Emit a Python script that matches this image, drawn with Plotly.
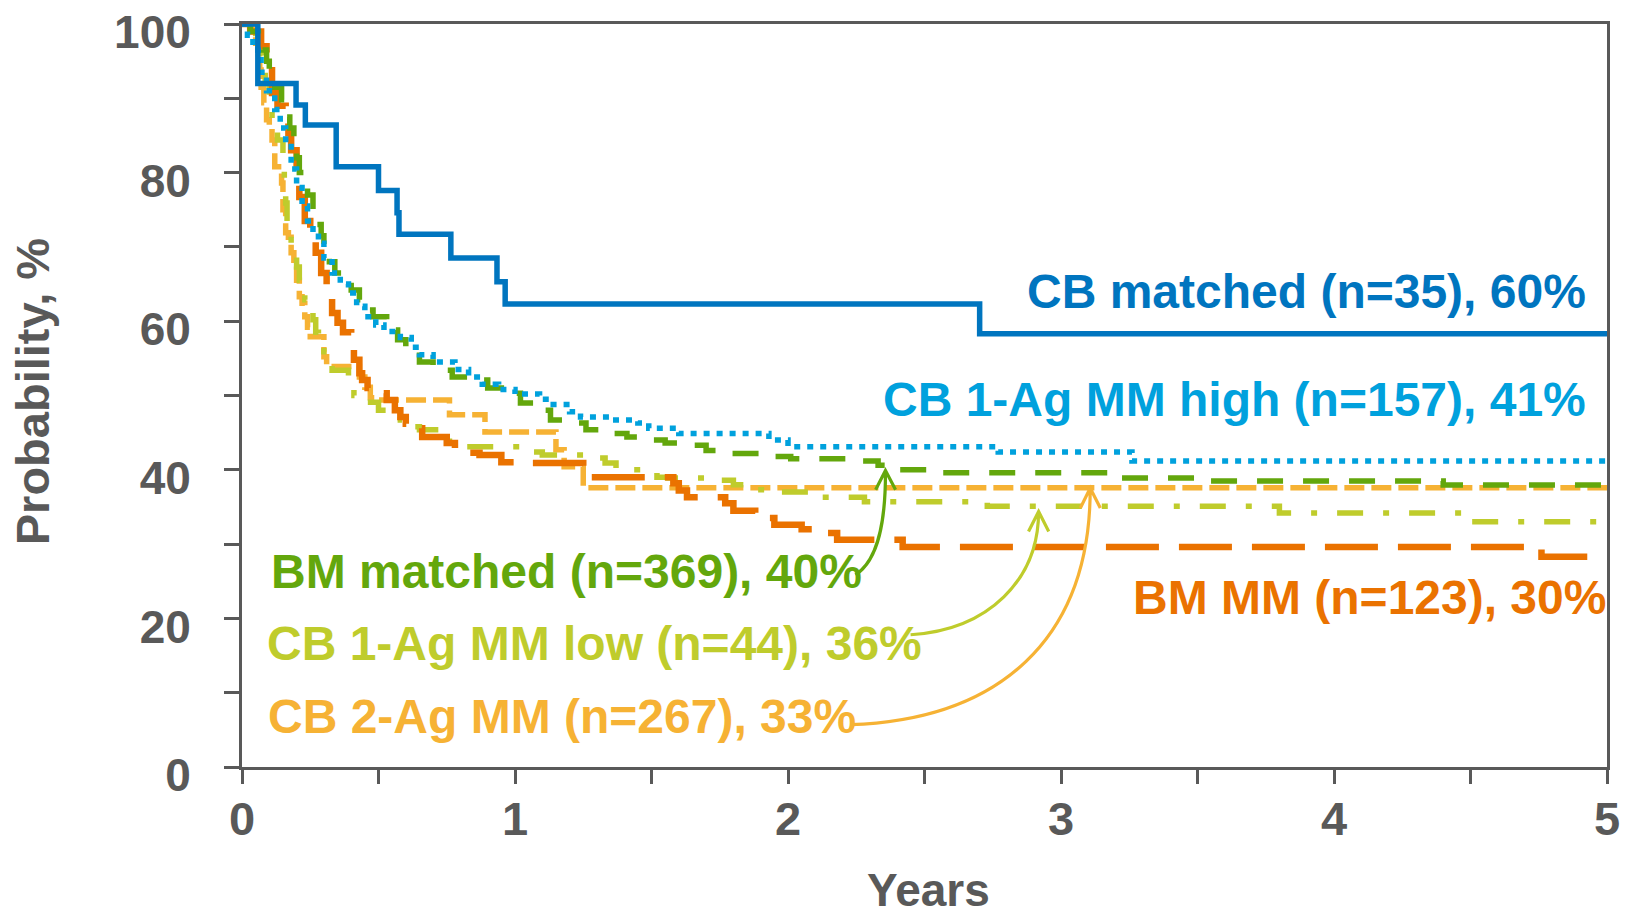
import plotly.graph_objects as go

# ---------------- data (years, survival %) ----------------
cb_matched_t = [0, 0.058, 0.198, 0.232, 0.345, 0.500, 0.568, 0.575, 0.765, 0.934, 0.964, 2.702, 5.0]
cb_matched_s = [100, 92.0, 89.1, 86.4, 80.8, 77.6, 74.6, 71.7, 68.5, 65.3, 62.3, 58.3, 58.3]

cb_high_t = [0, 0.02, 0.04, 0.07, 0.09, 0.12, 0.14, 0.16, 0.18, 0.20, 0.22, 0.24, 0.26, 0.28, 0.30,
             0.33, 0.36, 0.39, 0.42, 0.45, 0.49, 0.52, 0.58, 0.62, 0.65, 0.70, 0.78, 0.83, 0.88, 0.94,
             1.00, 1.09, 1.14, 1.20, 1.24, 1.35, 1.45, 1.49, 1.60, 1.93, 2.00, 2.77, 3.26, 5.0]
cb_high_s = [100, 98.5, 96.5, 93.5, 91.0, 88.5, 86.0, 83.5, 80.5, 78.0, 75.5, 73.5, 72.0, 70.5, 68.5,
             66.5, 65.0, 63.8, 62.0, 60.6, 59.5, 58.6, 57.8, 56.5, 55.5, 54.5, 53.5, 52.5, 51.5, 50.8,
             50.2, 49.5, 48.8, 47.8, 47.1, 46.7, 46.3, 45.6, 44.9, 44.0, 43.1, 42.4, 41.2, 41.2]

bm_matched_t = [0, 0.03, 0.06, 0.075, 0.09, 0.10, 0.12, 0.145, 0.16, 0.175, 0.19, 0.20, 0.21, 0.225,
                0.24, 0.26, 0.275, 0.29, 0.30, 0.32, 0.34, 0.37, 0.40, 0.43, 0.46, 0.48, 0.53, 0.57,
                0.60, 0.65, 0.70, 0.77, 0.85, 0.90, 0.95, 1.02, 1.07, 1.13, 1.19, 1.26, 1.31, 1.41,
                1.48, 1.55, 1.62, 1.70, 1.76, 1.93, 2.01, 2.25, 2.33, 2.38, 2.54, 3.21, 3.54, 4.40, 5.0]
bm_matched_s = [100, 99.0, 97.5, 96.5, 95.0, 93.0, 91.5, 89.8, 87.5, 86.0, 84.0, 82.0, 80.0, 78.5,
                77.0, 75.0, 73.0, 71.5, 70.0, 68.0, 66.5, 65.5, 64.2, 62.9, 61.5, 60.6, 58.8, 57.5,
                56.1, 54.5, 53.4, 52.5, 52.1, 51.0, 50.3, 49.0, 48.0, 46.7, 46.3, 45.4, 44.9, 44.4,
                44.0, 43.6, 43.3, 42.6, 42.2, 41.8, 41.5, 41.2, 40.6, 40.0, 39.6, 38.9, 38.5, 37.95, 37.95]

bm_mm_t = [0, 0.03, 0.07, 0.09, 0.11, 0.13, 0.16, 0.17, 0.18, 0.20, 0.21, 0.23, 0.25, 0.27, 0.29,
           0.31, 0.33, 0.35, 0.37, 0.40, 0.41, 0.43, 0.44, 0.46, 0.48, 0.53, 0.56, 0.58, 0.60, 0.62,
           0.66, 0.75, 0.78, 0.81, 0.87, 0.95, 1.00, 1.25, 1.27, 1.58, 1.60, 1.63, 1.77, 1.80, 1.88,
           1.95, 2.05, 2.12, 2.18, 2.42, 4.76, 5.0]
bm_mm_s = [100, 99.0, 97.0, 95.2, 90.7, 89.0, 87.1, 85.3, 83.0, 79.4, 76.7, 73.5, 70.9, 69.2, 66.5,
           63.8, 61.1, 59.8, 58.5, 57.1, 54.8, 53.0, 52.1, 51.0, 50.3, 49.4, 48.0, 47.1, 46.2, 45.6,
           44.4, 43.6, 42.8, 42.3, 42.0, 41.0, 40.9, 40.2, 39.0, 38.2, 37.2, 36.3, 35.5, 34.5, 33.5,
           32.6, 32.0, 31.5, 30.6, 29.6, 28.3, 28.3]

cb_low_t = [0, 0.03, 0.05, 0.06, 0.075, 0.085, 0.10, 0.11, 0.13, 0.15, 0.155, 0.16, 0.165, 0.17, 0.18,
            0.19, 0.20, 0.21, 0.22, 0.23, 0.25, 0.26, 0.27, 0.28, 0.30, 0.32, 0.33, 0.39, 0.41, 0.43,
            0.50, 0.54, 0.58, 0.62, 0.65, 0.72, 0.76, 0.79, 1.02, 1.10, 1.26, 1.33, 1.37, 1.48, 1.52,
            1.56, 1.72, 1.80, 1.88, 1.95, 2.11, 2.28, 2.73, 3.80, 4.49, 5.0]
cb_low_s = [100, 99.0, 98.3, 96.0, 93.8, 92.0, 90.2, 86.0, 84.4, 81.3, 78.0, 75.9, 73.0, 71.9, 70.5,
            69.2, 67.3, 65.5, 64.2, 62.9, 61.9, 60.2, 58.5, 57.2, 55.9, 55.0, 53.4, 52.1, 50.0, 49.1,
            48.0, 47.1, 46.7, 45.8, 45.4, 44.4, 43.7, 43.1, 42.4, 42.0, 41.6, 40.9, 40.0, 39.6, 39.0,
            38.9, 38.6, 38.0, 37.3, 37.0, 36.3, 35.7, 35.1, 34.2, 33.0, 33.0]

cb_2ag_t = [0, 0.04, 0.05, 0.06, 0.065, 0.07, 0.08, 0.09, 0.10, 0.11, 0.12, 0.145, 0.15, 0.16, 0.17,
            0.18, 0.19, 0.20, 0.21, 0.22, 0.23, 0.24, 0.25, 0.30, 0.31, 0.43, 0.45, 0.47, 0.50, 0.76,
            0.89, 1.15, 1.18, 1.25, 5.0]
cb_2ag_s = [100, 99.2, 97.4, 96.5, 93.8, 91.5, 89.4, 87.1, 86.4, 84.4, 80.8, 78.6, 75.0, 71.9, 71.3,
            69.2, 68.2, 65.5, 63.3, 62.4, 60.6, 59.2, 57.9, 55.2, 53.9, 52.5, 51.1, 49.7, 49.4, 47.4,
            45.1, 42.7, 40.4, 37.6, 37.6]

# ---------------- styles ----------------
C_CB = "#0075BF"
C_HIGH = "#00A1DD"
C_BMM = "#63A70C"
C_LOW = "#BFCC2C"
C_2AG = "#F6B234"
C_BMMM = "#EA7200"
GRAY = "#595959"
FONT = "Liberation Sans, Arial, sans-serif"

series = [
    (cb_2ag_t, cb_2ag_s, C_2AG, 5.5, "20px,7px", "CB 2-Ag MM"),
    (cb_low_t, cb_low_s, C_LOW, 5.5, "26px,20px,6px,20px", "CB 1-Ag MM low"),
    (bm_mm_t, bm_mm_s, C_BMMM, 6.5, "53px,20px", "BM MM"),
    (bm_matched_t, bm_matched_s, C_BMM, 5.5, "26px,20px", "BM matched"),
    (cb_high_t, cb_high_s, C_HIGH, 5.5, "6px,7px", "CB 1-Ag MM high"),
    (cb_matched_t, cb_matched_s, C_CB, 5.5, "solid", "CB matched"),
]

fig = go.Figure()
for t, s, col, w, dash, name in series:
    fig.add_trace(go.Scatter(x=t, y=s, mode="lines", name=name,
                             line=dict(color=col, width=w, dash=dash, shape="hv"),
                             showlegend=False, hoverinfo="skip", cliponaxis=False))

# ---------------- labels ----------------
labels = [
    ("CB matched (n=35), 60%", 4.927, 64.0, "right", C_CB),
    ("CB 1-Ag MM high (n=157), 41%", 4.927, 49.4, "right", C_HIGH),
    ("BM matched (n=369), 40%", 0.104, 26.3, "left", C_BMM),
    ("BM MM (n=123), 30%", 5.0, 22.8, "right", C_BMMM),
    ("CB 1-Ag MM low (n=44), 36%", 0.089, 16.6, "left", C_LOW),
    ("CB 2-Ag MM (n=267), 33%", 0.093, 6.8, "left", C_2AG),
]
for txt, x, y, anc, col in labels:
    fig.add_annotation(x=x, y=y, xref="x", yref="y", text=txt, showarrow=False,
                       xanchor=anc, yanchor="middle", borderpad=0,
                       font=dict(family=FONT, size=48, color=col, weight="bold"))

# curved arrows: start, control1, control2, tip, left arm, right arm (years, %)
arrows = [
    (C_BMM, (2.247, 25.87), (2.333, 27.89), (2.358, 33.27), (2.357, 39.90), (2.321, 37.31), (2.394, 37.31)),
    (C_LOW, (2.449, 17.80), (2.735, 18.47), (2.918, 25.20), (2.918, 34.39), (2.881, 31.70), (2.955, 31.70)),
    (C_2AG, (2.229, 5.69), (2.772, 6.36), (3.108, 17.13), (3.107, 37.54), (3.071, 34.85), (3.144, 34.85)),
]
for col, p0, c1, c2, tip, a1, a2 in arrows:
    path = (f"M {p0[0]},{p0[1]} C {c1[0]},{c1[1]} {c2[0]},{c2[1]} {tip[0]},{tip[1]} "
            f"M {a1[0]},{a1[1]} L {tip[0]},{tip[1]} L {a2[0]},{a2[1]}")
    fig.add_shape(type="path", path=path, xref="x", yref="y",
                  line=dict(color=col, width=3.2), layer="above")

# axis titles
fig.add_annotation(x=-0.1535, y=0.505, xref="paper", yref="paper", text="Probability, %",
                   textangle=-90, showarrow=False, xanchor="center", yanchor="middle",
                   font=dict(family=FONT, size=47, color=GRAY, weight="bold"))
fig.add_annotation(x=0.5027, y=-0.166, xref="paper", yref="paper", text="Years",
                   showarrow=False, xanchor="center", yanchor="middle",
                   font=dict(family=FONT, size=46, color=GRAY, weight="bold"))

fig.update_layout(
    width=1626, height=916,
    margin=dict(l=242, r=19, t=24, b=149, autoexpand=False),
    paper_bgcolor="white", plot_bgcolor="white",
    font=dict(family=FONT, color=GRAY),
)
fig.update_xaxes(range=[0, 5], tick0=0, dtick=1, showgrid=False, zeroline=False,
                 showline=True, linecolor=GRAY, linewidth=3, mirror=True,
                 ticks="outside", ticklen=14, tickwidth=2.5, tickcolor=GRAY,
                 ticklabelstandoff=-5, automargin=False, ticklabeloverflow="allow",
                 tickfont=dict(family=FONT, size=47, color=GRAY, weight="bold"),
                 minor=dict(dtick=0.5, ticks="outside", ticklen=14, tickwidth=2.5, tickcolor=GRAY))
fig.update_yaxes(range=[0, 100], tick0=0, dtick=20, showgrid=False, zeroline=False,
                 showline=True, linecolor=GRAY, linewidth=3, mirror=True,
                 ticks="outside", ticklen=15, tickwidth=2.5, tickcolor=GRAY,
                 ticklabelstandoff=24, ticklabelshift=8, automargin=False, ticklabeloverflow="allow",
                 tickfont=dict(family=FONT, size=46, color=GRAY, weight="bold"),
                 minor=dict(dtick=10, ticks="outside", ticklen=15, tickwidth=2.5, tickcolor=GRAY))

fig.write_html("out.html", config={"displayModeBar": False},
               post_script="document.body.style.margin='0px';document.body.style.overflow='hidden';")
